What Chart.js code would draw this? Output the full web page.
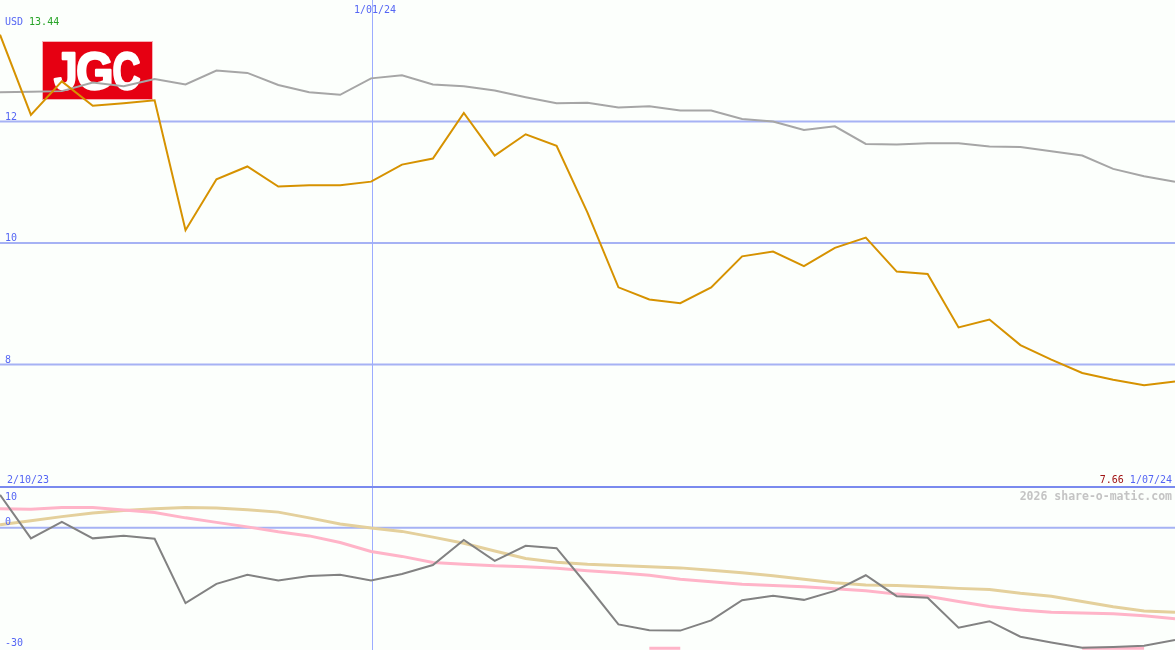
<!DOCTYPE html>
<html>
<head>
<meta charset="utf-8">
<script src="https://cdn.jsdelivr.net/npm/chart.js@4"></script>
<style>
  html, body { margin: 0; padding: 0; background: #fcfffc; overflow: hidden; }
  #wrap { position: relative; width: 1175px; height: 650px; background: #fcfffc; }
  #top { position: absolute; left: 0; top: 0; }
  #bot { position: absolute; left: 0; top: 486px; }
</style>
</head>
<body>
<div id="wrap">
  <canvas id="top" width="1175" height="486"></canvas>
  <canvas id="bot" width="1175" height="164"></canvas>
</div>
<script>
// ---------- data ----------
const weekIndex = Array.from({length: 39}, (_, i) => i); // 39 weekly points
const dateLabels = ['2/10/23', '1/01/24', '1/07/24'];
const dateLabelIndex = [0, 12, 38];
const currency = 'USD';
const maxPrice = '13.44';
const minPrice = '7.66';
const logoLetters = ['J', 'G', 'C'];
const watermark = '2026 share-o-matic.com';

const priceJGC = [13.43, 12.11, 12.66, 12.26, 12.30, 12.35, 10.21, 11.05, 11.26, 10.93,
                  10.95, 10.95, 11.01, 11.29, 11.39, 12.14, 11.44, 11.79, 11.60, 10.50,
                  9.27, 9.07, 9.01, 9.27, 9.78, 9.86, 9.62, 9.92, 10.09, 9.53,
                  9.49, 8.61, 8.74, 8.32, 8.08, 7.86, 7.75, 7.66, 7.72];
const priceIndex = [12.48, 12.49, 12.50, 12.64, 12.58, 12.70, 12.61, 12.84, 12.80, 12.60,
                    12.48, 12.44, 12.71, 12.76, 12.61, 12.58, 12.51, 12.40, 12.30, 12.31,
                    12.23, 12.25, 12.18, 12.18, 12.04, 12.00, 11.86, 11.92, 11.63, 11.62,
                    11.64, 11.64, 11.59, 11.58, 11.51, 11.44, 11.22, 11.10, 11.01];

const oscMain = [8.0, -2.6, 1.4, -2.6, -1.95, -2.7, -18.4, -13.7, -11.5, -12.9,
                 -11.8, -11.5, -12.9, -11.3, -9.1, -3.0, -8.1, -4.4, -5.0, -14.1,
                 -23.6, -25.0, -25.1, -22.6, -17.7, -16.6, -17.6, -15.4, -11.6, -16.7,
                 -17.1, -24.4, -22.8, -26.6, -28.0, -29.3, -29.1, -28.8, -27.4];
const oscPink = [4.6, 4.5, 4.9, 4.9, 4.3, 3.7, 2.4, 1.3, 0.2, -1.0,
                 -2.0, -3.6, -5.8, -7.0, -8.5, -8.9, -9.3, -9.5, -9.9, -10.5,
                 -11.0, -11.6, -12.6, -13.2, -13.8, -14.1, -14.4, -14.9, -15.4, -16.2,
                 -16.7, -18.0, -19.2, -20.1, -20.6, -20.8, -21.0, -21.5, -22.2];
const oscTan = [0.7, 1.7, 2.7, 3.6, 4.2, 4.6, 4.9, 4.8, 4.4, 3.8,
                2.4, 0.9, -0.1, -0.9, -2.3, -3.8, -5.7, -7.5, -8.4, -8.9,
                -9.2, -9.5, -9.8, -10.4, -11.0, -11.7, -12.6, -13.4, -14.0, -14.1,
                -14.4, -14.8, -15.1, -16.0, -16.7, -18.0, -19.3, -20.3, -20.6];
const oscFlag = [null, null, null, null, null, null, null, null, null, null,
                 null, null, null, null, null, null, null, null, null, null,
                 null, -29.4, -29.4, null, null, null, null, null, null, null,
                 null, null, null, null, null, -29.4, -29.4, -29.4, null];

const upperTicks = [12, 10, 8];
const lowerTicks = [10, 0, -30];

// ---------- styles ----------
const GRID = '#a6b2f4';
const SEP = '#7a8aee';
const VLINE = '#9cacff';
const TXT = '#5566f4';
const FONT = '10px "DejaVu Sans Mono", monospace';

const pts = arr => arr.map((v, i) => ({x: weekIndex[i], y: v}));

function vline(chart) {
  const {ctx, chartArea, scales} = chart;
  const x = Math.round(scales.x.getPixelForValue(dateLabelIndex[1])) + 1.5;
  ctx.save();
  ctx.strokeStyle = VLINE; ctx.lineWidth = 1;
  ctx.beginPath(); ctx.moveTo(x, chartArea.top); ctx.lineTo(x, chartArea.bottom); ctx.stroke();
  ctx.restore();
}

function drawLogo(ctx) {
  ctx.save();
  ctx.fillStyle = '#f6b0b6';
  ctx.fillRect(42, 41, 111, 59);
  ctx.fillStyle = '#e60012';
  ctx.fillRect(43, 42, 109, 57);
  ctx.fillStyle = '#ffffff';
  ctx.strokeStyle = '#ffffff';
  ctx.lineWidth = 2.5;
  ctx.lineJoin = 'round';
  ctx.font = 'bold 52px "Liberation Sans", Arial, sans-serif';
  ctx.textBaseline = 'alphabetic';
  const boxes = [[54, 21], [78, 33], [114, 26]]; // ink left, ink width
  logoLetters.forEach((ch, i) => {
    const m = ctx.measureText(ch);
    const inkL = -m.actualBoundingBoxLeft;
    const inkW = m.actualBoundingBoxRight + m.actualBoundingBoxLeft;
    const sx = boxes[i][1] / inkW;
    ctx.save();
    ctx.translate(boxes[i][0] - inkL * sx, 89);
    ctx.scale(sx, 1);
    ctx.fillText(ch, 0, 0);
    ctx.strokeText(ch, 0, 0);
    ctx.restore();
  });
  ctx.restore();
}

const topPlugin = {
  id: 'topDeco',
  beforeDatasetsDraw(chart) {
    const {ctx, scales} = chart;
    ctx.save();
    ctx.strokeStyle = GRID; ctx.lineWidth = 2;
    upperTicks.forEach(t => {
      const y = scales.y.getPixelForValue(t);
      ctx.beginPath(); ctx.moveTo(0, y); ctx.lineTo(chart.width, y); ctx.stroke();
    });
    ctx.restore();
    vline(chart);
    drawLogo(ctx);
  },
  afterDraw(chart) {
    const {ctx, scales} = chart;
    ctx.save();
    ctx.font = FONT;
    ctx.textBaseline = 'alphabetic';
    ctx.fillStyle = TXT;
    ctx.textAlign = 'left';
    upperTicks.forEach(t => {
      const y = scales.y.getPixelForValue(t);
      ctx.fillText(String(t), 5, y - 2);
    });
    ctx.fillText(currency, 5, 25);
    const w = ctx.measureText(currency + ' ').width;
    ctx.fillStyle = '#28a428';
    ctx.fillText(maxPrice, 5 + w, 25);
    ctx.fillStyle = TXT;
    ctx.textAlign = 'center';
    ctx.fillText(dateLabels[1], scales.x.getPixelForValue(dateLabelIndex[1]) + 4, 13);
    ctx.textAlign = 'left';
    ctx.fillText(dateLabels[0], 7, 483);
    ctx.textAlign = 'right';
    ctx.fillText(dateLabels[2], 1172, 483);
    const w2 = ctx.measureText(' ' + dateLabels[2]).width;
    ctx.fillStyle = '#a01414';
    ctx.fillText(minPrice, 1172 - w2, 483);
    ctx.restore();
  }
};

const botPlugin = {
  id: 'botDeco',
  beforeDatasetsDraw(chart) {
    const {ctx, scales} = chart;
    ctx.save();
    ctx.strokeStyle = GRID; ctx.lineWidth = 2;
    const y0 = scales.y.getPixelForValue(0);
    ctx.beginPath(); ctx.moveTo(0, y0); ctx.lineTo(chart.width, y0); ctx.stroke();
    ctx.restore();
    vline(chart);
  },
  afterDraw(chart) {
    const {ctx, scales} = chart;
    ctx.save();
    ctx.strokeStyle = SEP; ctx.lineWidth = 2;
    ctx.beginPath(); ctx.moveTo(0, 1); ctx.lineTo(chart.width, 1); ctx.stroke();
    ctx.font = FONT;
    ctx.fillStyle = TXT;
    ctx.textAlign = 'left';
    ctx.textBaseline = 'alphabetic';
    lowerTicks.forEach(t => {
      let y = scales.y.getPixelForValue(t);
      if (y < 10) y = y + 13; else y = Math.min(y - 2.5, chart.height - 4.5);
      ctx.fillText(String(t), 5, y);
    });
    ctx.font = 'bold 11.5px "DejaVu Sans Mono", monospace';
    ctx.fillStyle = '#c4c4c4';
    ctx.textAlign = 'right';
    ctx.fillText(watermark, 1172, 14);
    ctx.restore();
  }
};

const common = {
  responsive: false,
  animation: false,
  devicePixelRatio: 1,
  layout: { padding: 0 },
  plugins: { legend: { display: false }, tooltip: { enabled: false } },
  elements: { point: { radius: 0 }, line: { tension: 0 } },
};

new Chart(document.getElementById('top'), {
  type: 'line',
  data: {
    datasets: [
      { data: pts(priceJGC), borderColor: '#d69200', borderWidth: 2, order: 0, clip: 4 },
      { data: pts(priceIndex), borderColor: '#a6a6a6', borderWidth: 2, order: 1, clip: 4 },
    ]
  },
  options: Object.assign({}, common, {
    scales: {
      x: { type: 'linear', min: 0, max: 38, display: false },
      y: { type: 'linear', min: 6, max: 14, display: false }
    }
  }),
  plugins: [topPlugin]
});

new Chart(document.getElementById('bot'), {
  type: 'line',
  data: {
    datasets: [
      { data: pts(oscMain), borderColor: '#828282', borderWidth: 2, order: 0, clip: 4 },
      { data: pts(oscFlag), borderColor: '#ffb4c8', borderWidth: 3, order: 1, spanGaps: false, borderCapStyle: 'butt', clip: 4 },
      { data: pts(oscPink), borderColor: '#ffb4c8', borderWidth: 3, order: 2, clip: 4 },
      { data: pts(oscTan), borderColor: '#e4d09c', borderWidth: 3, order: 3, clip: 4 },
    ]
  },
  options: Object.assign({}, common, {
    scales: {
      x: { type: 'linear', min: 0, max: 38, display: false },
      y: { type: 'linear', min: -29.83, max: 10.17, display: false }
    }
  }),
  plugins: [botPlugin]
});
</script>
</body>
</html>
